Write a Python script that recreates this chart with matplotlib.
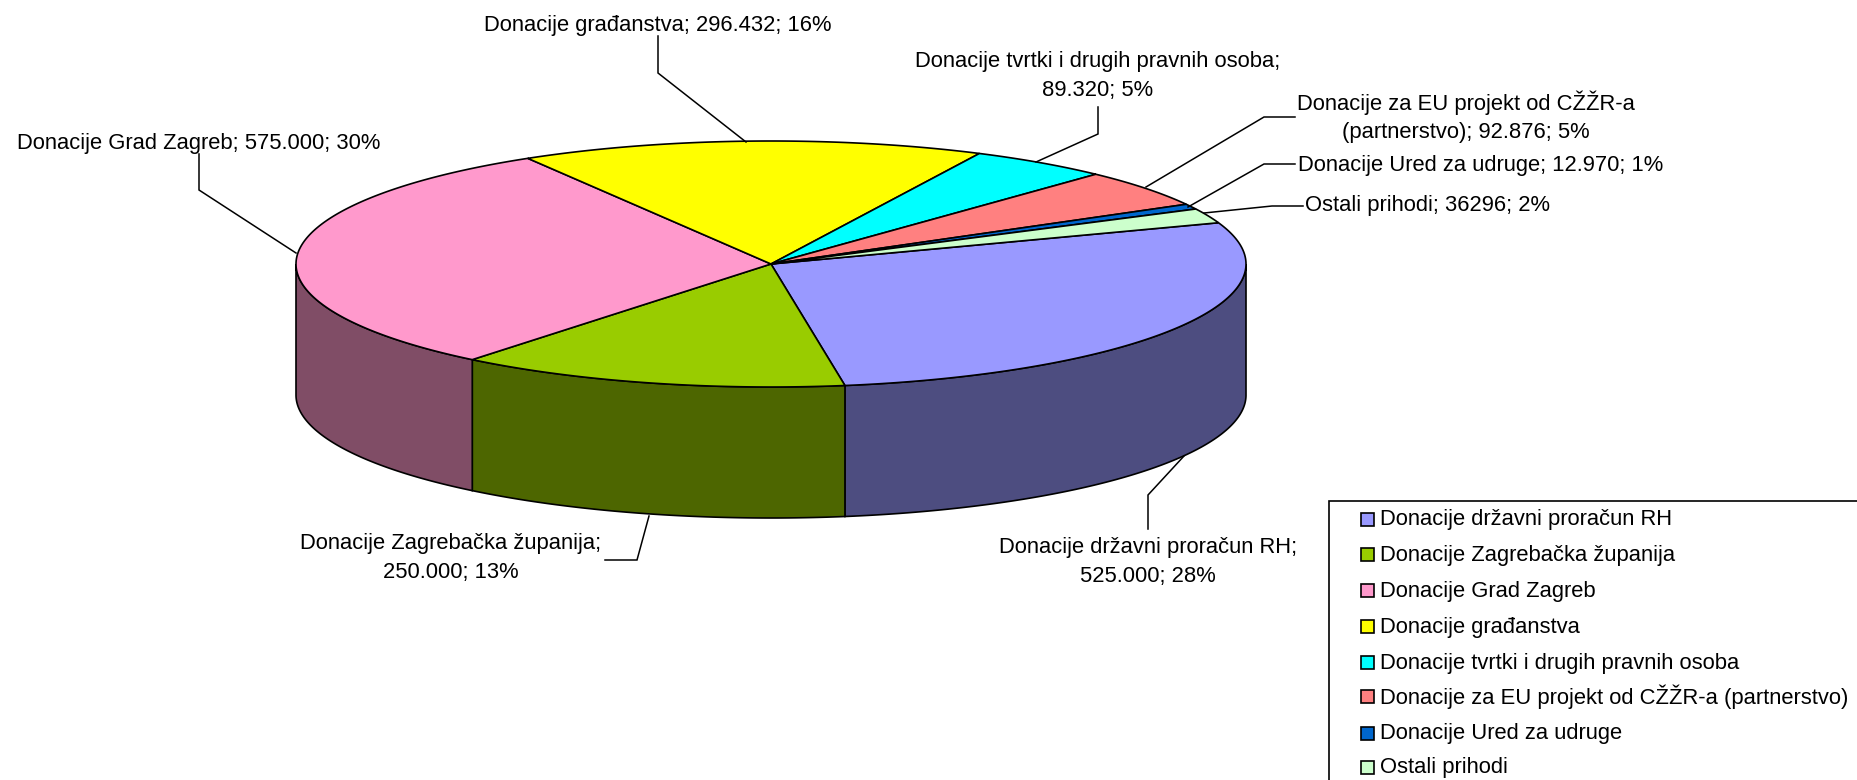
import numpy as np
import matplotlib
matplotlib.use('Agg')
import matplotlib.pyplot as plt
from matplotlib.patches import Polygon, Rectangle

plt.rcParams['font.family'] = ['Liberation Sans', 'DejaVu Sans']

# podaci
names = ['Donacije državni proračun RH', 'Donacije Zagrebačka županija',
         'Donacije Grad Zagreb', 'Donacije građanstva',
         'Donacije tvrtki i drugih pravnih osoba',
         'Donacije za EU projekt od CŽŽR-a (partnerstvo)',
         'Donacije Ured za udruge', 'Ostali prihodi']
values = [525000, 250000, 575000, 296432, 89320, 92876, 12970, 36296]
colors = ['#9999FF', '#99CC00', '#FF99CC', '#FFFF00',
          '#00FFFF', '#FF8080', '#0066CC', '#CCFFCC']
wall_colors = ['#4D4D80', '#4D6600', '#804D66', '#808000',
               '#008080', '#804040', '#003366', '#668066']

# tekst oznaka
label_texts = ['Donacije državni proračun RH;\n525.000; 28%',
               'Donacije Zagrebačka županija;\n250.000; 13%',
               'Donacije Grad Zagreb; 575.000; 30%',
               'Donacije građanstva; 296.432; 16%',
               'Donacije tvrtki i drugih pravnih osoba;\n89.320; 5%',
               'Donacije za EU projekt od CŽŽR-a\n(partnerstvo); 92.876; 5%',
               'Donacije Ured za udruge; 12.970; 1%',
               'Ostali prihodi; 36296; 2%']

# raspored, sve u pikselima
cx, cy, rx, ry, depth = 771, 264, 475, 123, 131
start_angle = 19.6
font_size = 15.8
label_xy = [(1148, 562), (451, 558), (199, 143), (658, 26),
            (1098, 76), (1466, 117), (1298, 165), (1305, 206)]
label_ha = ['center', 'center', 'center', 'center',
            'center', 'center', 'left', 'left']
leaders = [[(1148, 529), (1148, 495), (1184, 456)],
           [(605, 560), (637, 560), (649, 516)],
           [(199, 154), (199, 190), (296, 253)],
           [(658, 36), (658, 73), (746, 142)],
           [(1098, 107), (1098, 134), (1036, 162)],
           [(1295, 117), (1264, 117), (1146, 187)],
           [(1295, 164), (1264, 164), (1188, 207)],
           [(1303, 206), (1272, 206), (1204, 213)]]
legend_y = [519, 554, 590, 626, 662, 696, 733, 767]


def rub(a1, a2):
    # tocke na elipsi izmedu dva kuta (u stupnjevima)
    t = np.radians(np.linspace(a1, a2, 200))
    return cx + rx*np.cos(t), cy - ry*np.sin(t)


fig = plt.figure(figsize=(18.57, 7.8), dpi=100)
ax = fig.add_axes([0, 0, 1, 1])
ax.set_xlim(0, 1857)
ax.set_ylim(780, 0)
ax.axis('off')

total = sum(values)
angles = start_angle - np.cumsum([0] + values)/total*360

# bocni zidovi, vidi se samo donja polovica elipse
for i in range(len(values)):
    a1, a2 = angles[i], angles[i+1]
    for pomak in (0, -360):
        b1 = min(a1 + pomak, 0)
        b2 = max(a2 + pomak, -180)
        if b1 <= b2:
            continue
        x, y = rub(b1, b2)
        pts = np.vstack([np.column_stack([x, y]),
                         np.column_stack([x[::-1], y[::-1] + depth])])
        ax.add_patch(Polygon(pts, closed=True, fc=wall_colors[i], ec='black', lw=1.2))

# gornja ploha
for i in range(len(values)):
    x, y = rub(angles[i], angles[i+1])
    pts = np.vstack([[cx, cy], np.column_stack([x, y])])
    ax.add_patch(Polygon(pts, closed=True, fc=colors[i], ec='black', lw=1.2))

# oznake i linije
for i in range(len(label_texts)):
    ax.text(label_xy[i][0], label_xy[i][1], label_texts[i], ha=label_ha[i], va='center',
            fontsize=font_size, color='black', linespacing=1.45, multialignment='center')
    lx, ly = zip(*leaders[i])
    ax.plot(lx, ly, color='black', lw=1.1, solid_joinstyle='miter')

# legenda, izlazi preko ruba slike
ax.add_patch(Rectangle((1329, 501), 600, 400, fc='white', ec='black', lw=1.2))
for i in range(len(names)):
    ax.add_patch(Rectangle((1361, legend_y[i] - 6.5), 13, 13, fc=colors[i], ec='black', lw=1.2))
    ax.text(1380, legend_y[i] + 1, names[i], ha='left', va='center', fontsize=font_size, color='black')

fig.savefig('out.png', dpi=100)
